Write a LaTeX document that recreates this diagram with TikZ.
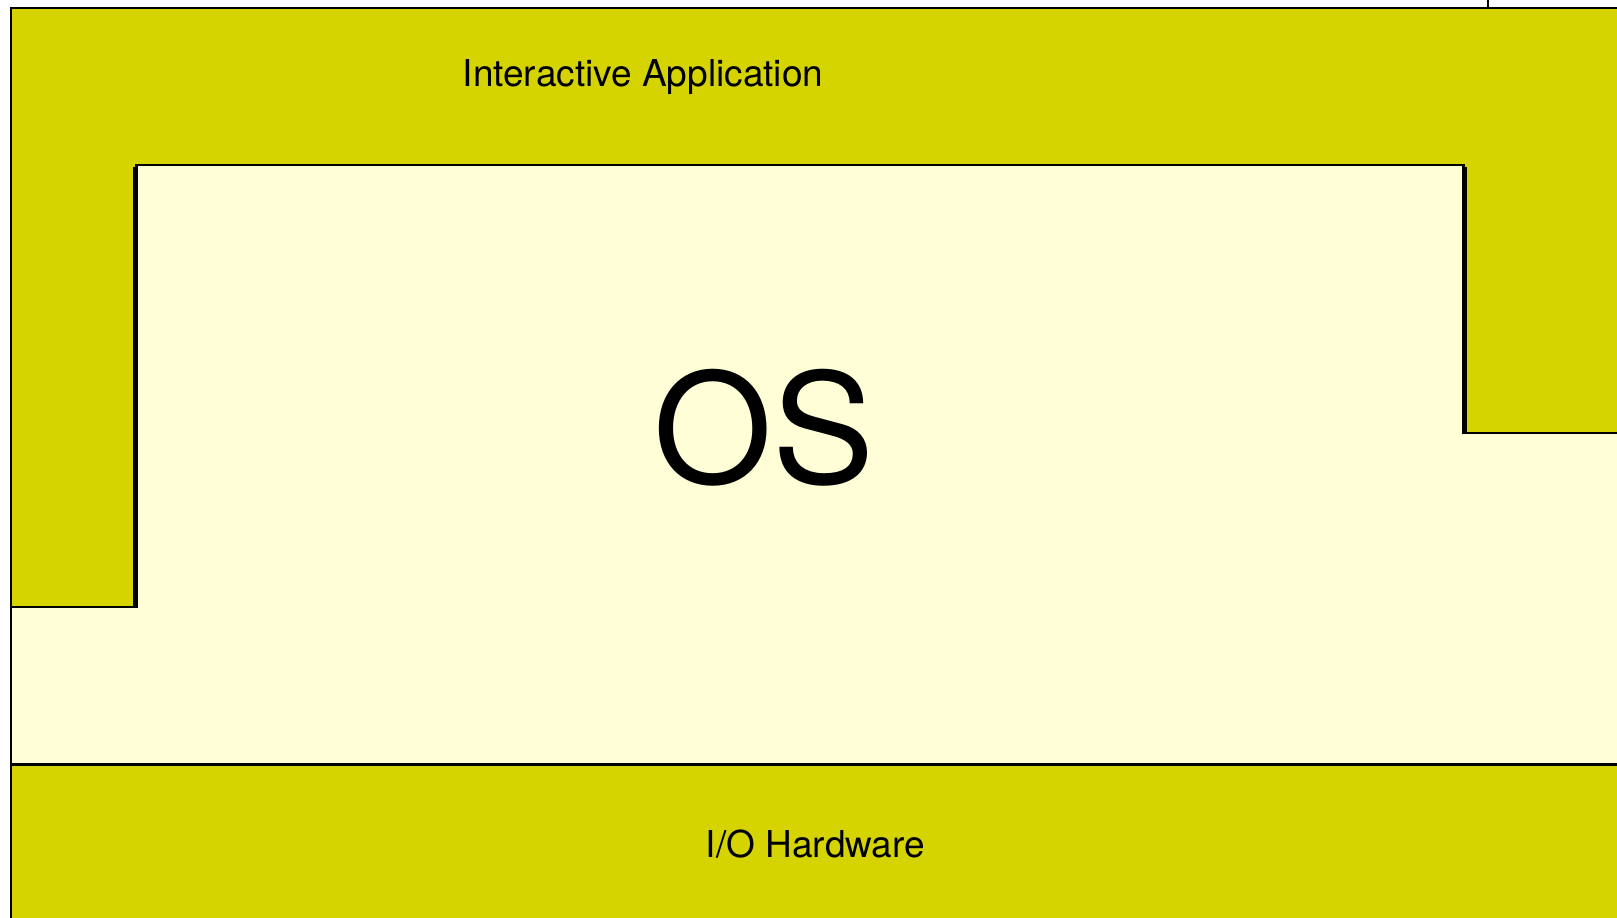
\documentclass[tikz,border=0pt]{standalone}
\usepackage{fontspec}
\setmainfont{TeX Gyre Heros}
\definecolor{layerdark}{RGB}{214,212,0}
\definecolor{layerlight}{RGB}{255,254,215}
\begin{document}
\begin{tikzpicture}[x=1pt,y=-1pt,
  edge/.style={draw=black,line width=2.4pt,line join=miter},
  label/.style={anchor=base,inner sep=0pt,font=\fontsize{37}{44}\selectfont},
  biglabel/.style={anchor=base,inner sep=0pt,font=\fontsize{153}{180}\selectfont}]
\useasboundingbox (0,0) rectangle (1617,918);
% application layer wrapping around the OS
\fill[layerdark] (11,8) -- (1617,8) -- (1617,433) -- (1464,433) -- (1464,165)
  -- (136,165) -- (136,607) -- (11,607) -- cycle;
% operating system
\fill[layerlight] (11,607) -- (136,607) -- (136,165) -- (1464,165) -- (1464,433)
  -- (1617,433) -- (1617,764) -- (11,764) -- cycle;
% I/O hardware layer
\fill[layerdark] (11,764) rectangle (1617,918);
% outlines
\draw[edge] (1617,8) -- (11,8) -- (11,918);
\draw[edge] (1488,0) -- (1488,8);
\draw[edge] (11,607) -- (136.5,607) -- (136.5,165) -- (1463.5,165) -- (1463.5,433) -- (1617,433);
\draw[edge] (134.3,167) -- (134.3,607);
\draw[edge] (1465.8,167) -- (1465.8,433);
\draw[edge] (11,764.5) -- (1617,764.5);
% labels
\node[label] (app) at (643,86) {Interactive Application};
\node[biglabel] (os) at (764,483) {OS};
\node[label] (hw) at (815.5,857) {I/O Hardware};
\end{tikzpicture}
\end{document}
